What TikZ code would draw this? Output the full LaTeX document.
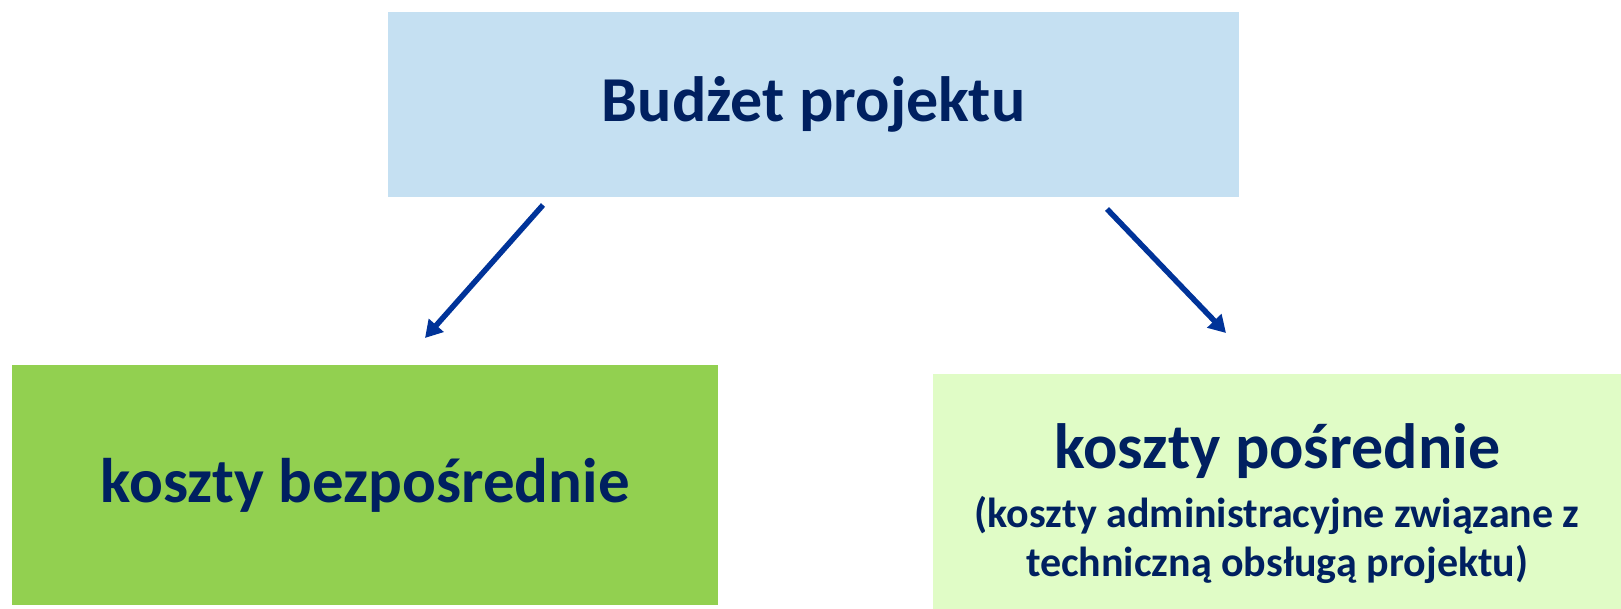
\documentclass[tikz,border=0pt]{standalone}
\usepackage{fontspec}
\setmainfont{Carlito}
\usepackage{xcolor}
\usetikzlibrary{
  arrows.meta,
  positioning
}
\definecolor{textnavy}{HTML}{002060}
\definecolor{arrowblue}{HTML}{003399}
\definecolor{topblue}{HTML}{C5E0F2}
\definecolor{directgreen}{HTML}{92D050}
\definecolor{indirectgreen}{HTML}{E0FCC6}

\begin{document}
\begin{tikzpicture}[x=1pt, y=-1pt,
    every node/.style={rectangle, inner sep=0pt, anchor=north west, align=center, text=textnavy, font=\bfseries},
    costbox/.style={fill=#1},
    link/.style={line width=5.5pt, draw=arrowblue, -{Triangle[length=17pt, width=19pt]}}]
\useasboundingbox (0,0) rectangle (1621,608);
\node [costbox=topblue, minimum width=851pt, minimum height=185pt, font=\bfseries\fontsize{64}{76}\selectfont] (budget) at (388,12) {Budżet projektu};
\node [costbox=directgreen, minimum width=706pt, minimum height=240pt, font=\bfseries\fontsize{63}{75}\selectfont] (direct) at (12,365) {koszty bezpośrednie};
\node [costbox=indirectgreen, minimum width=688pt, minimum height=259pt, font=\bfseries\fontsize{42}{49}\selectfont] (indirect) at (933,374)
  {{\fontsize{64}{76}\selectfont koszty pośrednie}\\[10pt]
   (koszty administracyjne związane z\\
   techniczną obsługą projektu)};
\coordinate (directtip) at (425,338);
\coordinate (directtail) at (543,205);
\coordinate (indirecttail) at (1107,209);
\coordinate (indirecttip) at (1226,333);
\draw [link] (directtail) -- (directtip);
\draw [link] (indirecttail) -- (indirecttip);
\end{tikzpicture}
\end{document}
